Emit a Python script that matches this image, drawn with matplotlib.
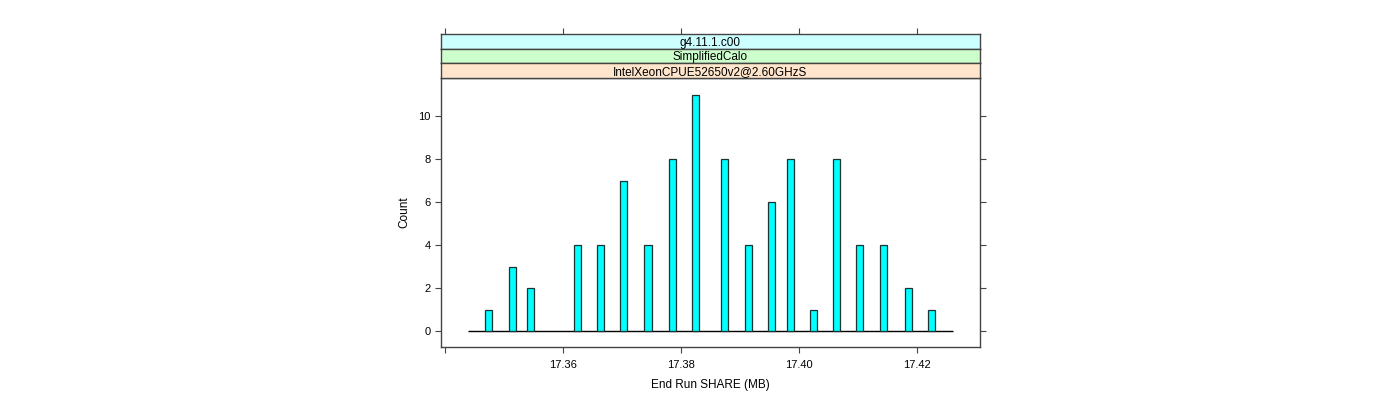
import matplotlib
matplotlib.use("Agg")
import matplotlib.pyplot as plt

# Data
bar_centers = [17.3473, 17.3514, 17.3544, 17.3624, 17.3664, 17.3703, 17.3744,
               17.3785, 17.3824, 17.3873, 17.3914, 17.3953, 17.3985, 17.4024,
               17.4064, 17.4103, 17.4144, 17.4185, 17.4225]
counts = [1, 3, 2, 4, 4, 7, 4, 8, 11, 8, 4, 6, 8, 1, 8, 4, 4, 2, 1]
hist_range = [17.3439, 17.4261]
x_ticks = [17.34, 17.36, 17.38, 17.40, 17.42]
x_ticklabels = ["", "17.36", "17.38", "17.40", "17.42"]
y_ticks = [0, 2, 4, 6, 8, 10]
strip_labels = ["g4.11.1.c00", "SimplifiedCalo", "IntelXeonCPUE52650v2@2.60GHzS"]
strip_colors = ["#CCFFFF", "#CCFFCC", "#FFE5CC"]

plt.rcParams['font.family'] = ['Liberation Sans', 'DejaVu Sans']
W, H = 1400, 400
fig = plt.figure(figsize=(W / 100, H / 100), dpi=100)

L, R = 441, 980
B, T = 347, 78
ax = fig.add_axes([L / W, 1 - B / H, (R - L) / W, (B - T) / H])
xlim = (17.3393, 17.4307)
ax.set_xlim(*xlim)
ax.set_ylim(-0.744, 11.77)

frame_col = "#444444"
for s in ax.spines.values():
    s.set_color(frame_col)
    s.set_linewidth(1.0)

ax.hlines(0, hist_range[0], hist_range[1], color="black", linewidth=1.0, zorder=2)
ax.bar(bar_centers, counts, width=0.0012, color="#00FFFF", edgecolor="#1a3333",
       linewidth=0.9, zorder=3)

ax.set_xticks(x_ticks)
ax.set_xticklabels(x_ticklabels)
ax.set_yticks(y_ticks)
ax.tick_params(axis="both", direction="out", length=4.5, width=0.8, color=frame_col,
               labelsize=8, pad=3)
ax.tick_params(axis="y", right=True, labelright=False)
ax.tick_params(axis="x", pad=5)
ax.set_xlabel("End Run SHARE (MB)", fontsize=8.5, labelpad=6)
ax.set_ylabel("Count", fontsize=8.5, labelpad=6)

# strips
strip_h = 14.67
tops = [34, 34 + strip_h, 34 + 2 * strip_h]
for i, (lab, col) in enumerate(zip(strip_labels, strip_colors)):
    top = tops[i]
    sax = fig.add_axes([L / W, 1 - (top + strip_h) / H, (R - L) / W, strip_h / H])
    sax.set_facecolor(col)
    sax.set_xlim(*xlim)
    sax.set_ylim(0, 1)
    sax.set_yticks([])
    for s in sax.spines.values():
        s.set_color(frame_col)
        s.set_linewidth(1.0)
    if i == 0:
        sax.set_xticks(x_ticks)
        sax.tick_params(axis="x", top=True, bottom=False, labeltop=False,
                        labelbottom=False, direction="out", length=4.5,
                        width=0.8, color=frame_col)
    else:
        sax.set_xticks([])
    sax.text(0.5, 0.52, lab, transform=sax.transAxes, ha="center",
             va="center_baseline", fontsize=8.5)

fig.savefig("out.png", dpi=100)
